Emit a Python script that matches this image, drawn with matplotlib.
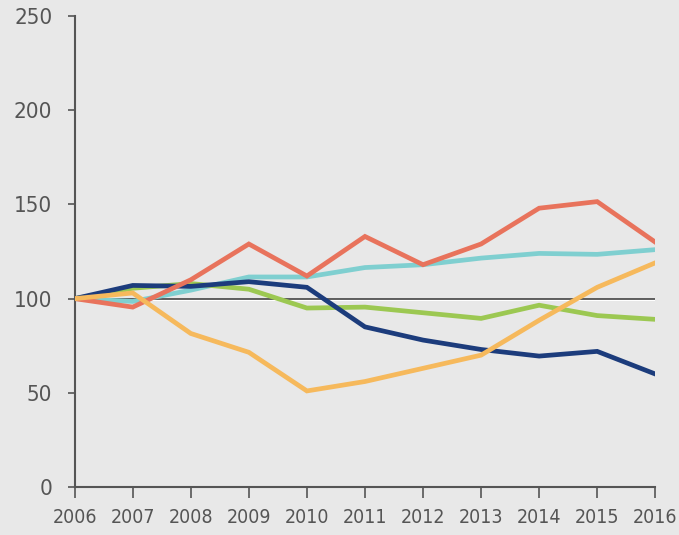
import matplotlib.pyplot as plt

## DATA
#  index values, 2006 = 100
years = [2006, 2007, 2008, 2009, 2010, 2011, 2012, 2013, 2014, 2015, 2016]
red = [100, 95.5, 110, 129, 112, 133, 118, 129, 148, 151.5, 130]
cyan = [100, 98.5, 104.5, 111.5, 111.5, 116.5, 118, 121.5, 124, 123.5, 126]
navy = [100, 107, 106.5, 109, 106, 85, 78, 73, 69.5, 72, 60]
green = [100, 105.5, 108, 105, 95, 95.5, 92.5, 89.5, 96.5, 91, 89]
yellow = [100, 103, 81.5, 71.5, 51, 56, 63, 70, 88.5, 106, 119]

plt.rcParams['font.family'] = ['DejaVu Sans']
plt.rcParams['font.stretch'] = 'condensed'

bg = "#e8e8e8"
fig = plt.figure(figsize=(6.79, 5.35), dpi=100, facecolor=bg)
ax = fig.add_axes([0.110, 0.0897, 0.855, 0.8803], facecolor=bg)

# reference line at 100 (with a faint white shadow underneath)
ax.axhline(99.2, color="white", lw=1.5, zorder=1)
ax.axhline(100, color="#444444", lw=1.2, zorder=2)

ax.plot(years, cyan, color="#7fcfd0", lw=3.4, zorder=3, solid_joinstyle="miter")
ax.plot(years, green, color="#9cc852", lw=3.4, zorder=3, solid_joinstyle="miter")
ax.plot(years, navy, color="#1c3c7c", lw=3.4, zorder=4, solid_joinstyle="miter")
ax.plot(years, red, color="#e8735c", lw=3.4, zorder=5, solid_joinstyle="miter")
ax.plot(years, yellow, color="#f6b95c", lw=3.4, zorder=6, solid_joinstyle="miter")

ax.set_xlim(2006, 2016)
ax.set_ylim(0, 250)
ax.set_xticks(years)
ax.set_yticks([0, 50, 100, 150, 200, 250])

for s in ["top", "right"]:
    ax.spines[s].set_visible(False)
for s in ["left", "bottom"]:
    ax.spines[s].set_color("#555555")
    ax.spines[s].set_linewidth(1.5)

ax.tick_params(axis="y", direction="out", length=5, width=1.2, color="#555555",
               labelsize=16, labelcolor="#555555", pad=11)
ax.tick_params(axis="x", direction="out", length=8, width=1.2, color="#555555",
               labelsize=14, labelcolor="#555555", pad=7)

plt.savefig("out.png", dpi=100, facecolor=bg)
